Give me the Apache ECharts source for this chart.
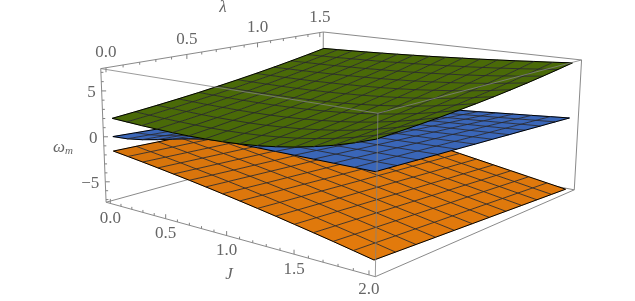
<!DOCTYPE html>
<html><head><meta charset="utf-8"><style>html,body{margin:0;background:#fff}#c{width:635px;height:301px}</style>
<script src="https://cdn.jsdelivr.net/npm/echarts@6/dist/echarts.min.js"></script></head><body><div id="c"></div>
<script>
const jTicks=['0.0','0.5','1.0','1.5','2.0'];
const lTicks=['0.0','0.5','1.0','1.5'];
const zTicks=[['\u22125',-5],['0',0],['5',5]];
// surfaces: one row per lambda step (0..1.5), one column per J step (0..2)
const green=[
[2.00,1.93,1.86,1.81,1.78,1.78,1.82,1.89,2.02,2.20,2.45,2.77,3.17,3.65,4.23,4.90],
[2.20,2.14,2.08,2.05,2.03,2.03,2.07,2.15,2.28,2.46,2.69,3.00,3.37,3.82,4.36,4.99],
[2.42,2.37,2.33,2.30,2.29,2.31,2.35,2.43,2.56,2.73,2.96,3.24,3.59,4.02,4.52,5.10],
[2.66,2.62,2.59,2.58,2.58,2.60,2.65,2.74,2.86,3.03,3.24,3.51,3.84,4.23,4.70,5.23],
[2.92,2.90,2.88,2.88,2.89,2.92,2.98,3.07,3.19,3.35,3.55,3.81,4.11,4.47,4.90,5.39],
[3.21,3.20,3.19,3.20,3.22,3.26,3.32,3.41,3.53,3.69,3.88,4.12,4.40,4.73,5.12,5.56],
[3.52,3.52,3.53,3.54,3.57,3.62,3.69,3.79,3.91,4.06,4.24,4.46,4.72,5.02,5.37,5.76],
[3.85,3.86,3.88,3.91,3.95,4.01,4.09,4.18,4.30,4.44,4.61,4.82,5.05,5.32,5.63,5.99],
[4.20,4.23,4.26,4.30,4.35,4.42,4.50,4.60,4.71,4.85,5.01,5.20,5.41,5.65,5.93,6.23],
[4.58,4.62,4.66,4.71,4.78,4.85,4.94,5.04,5.15,5.29,5.44,5.60,5.79,6.01,6.24,6.50],
[4.98,5.03,5.08,5.15,5.22,5.30,5.40,5.50,5.61,5.74,5.88,6.03,6.20,6.38,6.58,6.79],
[5.40,5.46,5.53,5.60,5.69,5.78,5.88,5.98,6.10,6.22,6.34,6.48,6.62,6.78,6.93,7.10]];
const blue=[
[0.00,0.10,0.35,0.70,1.10,1.48,1.79,1.97,2.00,2.00,2.00,2.00,2.00,2.00,2.00,2.00],
[-0.14,-0.03,0.21,0.55,0.92,1.29,1.58,1.76,1.80,1.82,1.83,1.85,1.86,1.88,1.89,1.91],
[-0.27,-0.16,0.07,0.39,0.75,1.09,1.37,1.55,1.60,1.63,1.66,1.69,1.72,1.75,1.78,1.81],
[-0.41,-0.29,-0.07,0.24,0.57,0.89,1.16,1.34,1.40,1.45,1.49,1.54,1.58,1.63,1.67,1.71],
[-0.55,-0.42,-0.20,0.08,0.39,0.70,0.95,1.13,1.20,1.26,1.32,1.38,1.44,1.50,1.56,1.62],
[-0.68,-0.56,-0.34,-0.08,0.22,0.50,0.74,0.91,1.00,1.08,1.15,1.23,1.30,1.37,1.45,1.52],
[-0.82,-0.69,-0.48,-0.23,0.04,0.30,0.53,0.70,0.80,0.89,0.98,1.07,1.16,1.25,1.34,1.43],
[-0.96,-0.82,-0.62,-0.39,-0.14,0.10,0.32,0.49,0.60,0.71,0.81,0.92,1.02,1.12,1.23,1.33],
[-1.09,-0.95,-0.76,-0.54,-0.32,-0.09,0.11,0.28,0.41,0.52,0.64,0.76,0.88,1.00,1.12,1.24],
[-1.23,-1.08,-0.90,-0.70,-0.49,-0.29,-0.10,0.07,0.21,0.34,0.47,0.61,0.74,0.87,1.01,1.14],
[-1.36,-1.21,-1.04,-0.86,-0.67,-0.49,-0.31,-0.15,0.01,0.15,0.30,0.45,0.60,0.75,0.90,1.05],
[-1.50,-1.34,-1.17,-1.01,-0.85,-0.68,-0.52,-0.36,-0.19,-0.03,0.13,0.30,0.46,0.62,0.79,0.95]];
const orange=[
[-1.60,-1.83,-2.06,-2.31,-2.57,-2.83,-3.11,-3.40,-3.70,-4.01,-4.33,-4.67,-5.01,-5.36,-5.73,-6.10],
[-1.67,-1.91,-2.15,-2.40,-2.67,-2.94,-3.22,-3.51,-3.82,-4.13,-4.45,-4.78,-5.12,-5.47,-5.83,-6.20],
[-1.75,-1.99,-2.24,-2.50,-2.77,-3.05,-3.33,-3.63,-3.93,-4.24,-4.56,-4.89,-5.23,-5.58,-5.94,-6.30],
[-1.82,-2.07,-2.33,-2.60,-2.87,-3.15,-3.44,-3.74,-4.04,-4.36,-4.68,-5.01,-5.34,-5.69,-6.04,-6.40],
[-1.89,-2.15,-2.42,-2.69,-2.97,-3.26,-3.55,-3.85,-4.16,-4.47,-4.79,-5.12,-5.46,-5.80,-6.15,-6.50],
[-1.96,-2.23,-2.51,-2.79,-3.07,-3.36,-3.66,-3.97,-4.27,-4.59,-4.91,-5.24,-5.57,-5.91,-6.25,-6.60],
[-2.04,-2.31,-2.60,-2.88,-3.17,-3.47,-3.77,-4.08,-4.39,-4.70,-5.02,-5.35,-5.68,-6.02,-6.36,-6.70],
[-2.11,-2.39,-2.68,-2.98,-3.27,-3.58,-3.88,-4.19,-4.50,-4.82,-5.14,-5.46,-5.79,-6.12,-6.46,-6.80],
[-2.18,-2.48,-2.77,-3.07,-3.38,-3.68,-3.99,-4.30,-4.62,-4.93,-5.26,-5.58,-5.90,-6.23,-6.57,-6.90],
[-2.26,-2.56,-2.86,-3.17,-3.48,-3.79,-4.10,-4.42,-4.73,-5.05,-5.37,-5.69,-6.02,-6.34,-6.67,-7.00],
[-2.33,-2.64,-2.95,-3.26,-3.58,-3.89,-4.21,-4.53,-4.85,-5.16,-5.49,-5.81,-6.13,-6.45,-6.78,-7.10],
[-2.40,-2.72,-3.04,-3.36,-3.68,-4.00,-4.32,-4.64,-4.96,-5.28,-5.60,-5.92,-6.24,-6.56,-6.88,-7.20]];
const NJ=green[0].length-1,NL=green.length-1;
const B={j0:-0.04,j1:2.04,l0:-0.03,l1:1.53,z0:-7.3,z1:7.4};
const corners=[
 [B.j0,B.l0,B.z1,100,68],[B.j0,B.l0,B.z0,107,202],[B.j1,B.l0,B.z1,377,114],[B.j1,B.l0,B.z0,376,277],
 [B.j0,B.l1,B.z1,325,32],[B.j0,B.l1,B.z0,321,143],[B.j1,B.l1,B.z1,581,60],[B.j1,B.l1,B.z0,575,189]];
function solve(A,b){const n=b.length;for(let i=0;i<n;i++){let p=i;for(let k=i+1;k<n;k++)if(Math.abs(A[k][i])>Math.abs(A[p][i]))p=k;[A[i],A[p]]=[A[p],A[i]];[b[i],b[p]]=[b[p],b[i]];
 for(let k=i+1;k<n;k++){const f=A[k][i]/A[i][i];for(let m=i;m<n;m++)A[k][m]-=f*A[i][m];b[k]-=f*b[i];}}
 const x=Array(n);for(let i=n-1;i>=0;i--){let s=b[i];for(let m=i+1;m<n;m++)s-=A[i][m]*x[m];x[i]=s/A[i][i];}return x;}
const nrm=p=>[(p[0]-1)/1,(p[1]-0.75)/0.75,p[2]/7];
const H=(()=>{const R=[],Y=[];for(const c of corners){const [x,y,z]=nrm(c);R.push([x,y,z,1,0,0,0,0,-c[3]*x,-c[3]*y,-c[3]*z]);Y.push(c[3]);R.push([0,0,0,0,x,y,z,1,-c[4]*x,-c[4]*y,-c[4]*z]);Y.push(c[4]);}
 const A=[],b=[];for(let i=0;i<11;i++){A.push([]);for(let k=0;k<11;k++){let s=0;for(let r=0;r<R.length;r++)s+=R[r][i]*R[r][k];A[i].push(s);}let s=0;for(let r=0;r<R.length;r++)s+=R[r][i]*Y[r];b.push(s);}
 return solve(A,b);})();
function P(J,l,z){const [x,y,w]=nrm([J,l,z]);const d=H[8]*x+H[9]*y+H[10]*w+1;return [(H[0]*x+H[1]*y+H[2]*w+H[3])/d,(H[4]*x+H[5]*y+H[6]*w+H[7])/d];}
const gp=(g,i,j)=>P(i/NJ*2,j/NL*1.5,g[j][i]);
const idx=[];for(let j=0;j<NL;j++)for(let i=0;i<NJ;i++)idx.push([i,j]);
const lineIdx=[];for(let k=0;k<=NL;k++)lineIdx.push([0,k]);for(let k=0;k<=NJ;k++)lineIdx.push([1,k]);
function shade(rgb,g,i,j,st){const gu=(g[j][i+1]+g[j+1][i+1]-g[j][i]-g[j+1][i])/2*NJ;const b=Math.min(1.03,1+st*(-gu-5.5));return 'rgb('+rgb.map(c=>Math.round(Math.min(255,c*b))).join(',')+')';}
function surface(g,rgb,st,z){return [
 {type:'custom',coordinateSystem:'none',silent:true,z:z,data:idx,animation:false,renderItem:(p,api)=>{const i=api.value(0),j=api.value(1);const color=st?shade(rgb,g,i,j,st):'rgb('+rgb.join(',')+')';
  return {type:'polygon',shape:{points:[gp(g,i,j),gp(g,i+1,j),gp(g,i+1,j+1),gp(g,i,j+1)]},style:{fill:color,stroke:color,lineWidth:0.6}};}},
 {type:'custom',coordinateSystem:'none',silent:true,z:z+0.5,data:lineIdx,animation:false,renderItem:(p,api)=>{const d=api.value(0),k=api.value(1);
  const pts=[];if(d){for(let t=0;t<=NL;t++)pts.push(gp(g,k,t));}else{for(let t=0;t<=NJ;t++)pts.push(gp(g,t,k));}const edge=k==0||k==(d?NJ:NL);
  return {type:'polyline',shape:{points:pts},style:{fill:null,stroke:edge?'#000':'rgba(40,40,45,0.85)',lineWidth:1}};}}];}
const edges=[[B.j0,B.l0,B.z0,B.j1,B.l0,B.z0,0],[B.j0,B.l0,B.z0,B.j0,B.l1,B.z0,1],[B.j1,B.l0,B.z0,B.j1,B.l1,B.z0,1],[B.j0,B.l1,B.z0,B.j1,B.l1,B.z0,1],
 [B.j0,B.l1,B.z0,B.j0,B.l1,B.z1,1],[B.j0,B.l0,B.z1,B.j0,B.l1,B.z1,1],[B.j0,B.l1,B.z1,B.j1,B.l1,B.z1,1],[B.j0,B.l0,B.z0,B.j0,B.l0,B.z1,1],[B.j1,B.l1,B.z0,B.j1,B.l1,B.z1,1],
 [B.j0,B.l0,B.z1,B.j1,B.l0,B.z1,2],[B.j1,B.l0,B.z1,B.j1,B.l1,B.z1,2],[B.j1,B.l0,B.z0,B.j1,B.l0,B.z1,2]];
function edgeSeries(front,z){return {type:'custom',coordinateSystem:'none',silent:true,z:z,animation:false,data:edges.map((e,k)=>[k]).filter(k=>(edges[k[0]][6]==2)==front),renderItem:(p,api)=>{const e=edges[api.value(0)];
 const a=P(e[0],e[1],e[2]),b=P(e[3],e[4],e[5]);return {type:'line',shape:{x1:a[0],y1:a[1],x2:b[0],y2:b[1]},style:{stroke:front?'rgba(130,130,130,0.8)':'#8a8a8a',lineWidth:1}};}};}
const ticks=[];
for(let k=0;k<=20;k++)ticks.push(['J',k/10,k%5==0]);
for(let k=0;k<=15;k++)ticks.push(['L',k/10,k%5==0]);
for(let k=-7;k<=7;k++)ticks.push(['Z',k,k%5==0]);
const labels=[];
jTicks.forEach(t=>labels.push(['J',+t,t]));lTicks.forEach(t=>labels.push(['L',+t,t]));zTicks.forEach(t=>labels.push(['Z',t[1],t[0]]));
const tickFont='17px "Liberation Serif"';
const series=[edgeSeries(false,1),...surface(orange,[226,122,12],0.025,2),...surface(blue,[58,102,184],0,3),...surface(green,[74,106,8],0,4),edgeSeries(true,5),
 {type:'custom',coordinateSystem:'none',silent:true,z:6,animation:false,data:ticks.map((t,k)=>[k]),renderItem:(p,api)=>{const t=ticks[api.value(0)],L=t[2]?4.5:2.5;let a,dx=0,dy=0;
  if(t[0]=='J'){a=P(t[1],B.l0,B.z0);dy=-L;}else if(t[0]=='L'){a=P(B.j0,t[1],B.z1);dy=L;}else{a=P(B.j0,B.l0,t[1]);dx=L;}
  return {type:'line',shape:{x1:a[0],y1:a[1],x2:a[0]+dx,y2:a[1]+dy},style:{stroke:'#808080',lineWidth:1}};}},
 {type:'custom',coordinateSystem:'none',silent:true,z:7,animation:false,data:labels.map((t,k)=>[k]),renderItem:(p,api)=>{const t=labels[api.value(0)];let a,dx=0,dy=0,al='center';
  if(t[0]=='J'){a=P(t[1],B.l0,B.z0);dy=15;}else if(t[0]=='L'){a=P(B.j0,t[1],B.z1);dy=-15;dx=0;}else{a=P(B.j0,B.l0,t[1]);dx=-6;dy=2;al='right';}
  return {type:'text',style:{text:t[2],x:a[0]+dx,y:a[1]+dy,fill:'#666',font:tickFont,align:al,verticalAlign:'middle'}};}}];
const chart=echarts.init(document.getElementById('c'),null,{renderer:'canvas'});
chart.setOption({animation:false,backgroundColor:'#fff',series,
 graphic:[
 {type:'text',x:223,y:8,z:10,style:{text:'\u03bb',fill:'#666',font:'italic 17px "Liberation Serif"',align:'center',verticalAlign:'middle'}},
 {type:'text',x:229,y:275,z:10,style:{text:'J',fill:'#666',font:'italic 17px "Liberation Serif"',align:'center',verticalAlign:'middle'}},
 {type:'text',x:63,y:148,z:10,style:{text:'{a|\u03c9}{b|m}',fill:'#666',align:'center',verticalAlign:'middle',rich:{a:{font:'italic 17px "Liberation Serif"',fill:'#666'},b:{font:'italic 11px "Liberation Serif"',fill:'#666',verticalAlign:'bottom',padding:[6,0,0,0]}}}}
 ]});
</script></body></html>
